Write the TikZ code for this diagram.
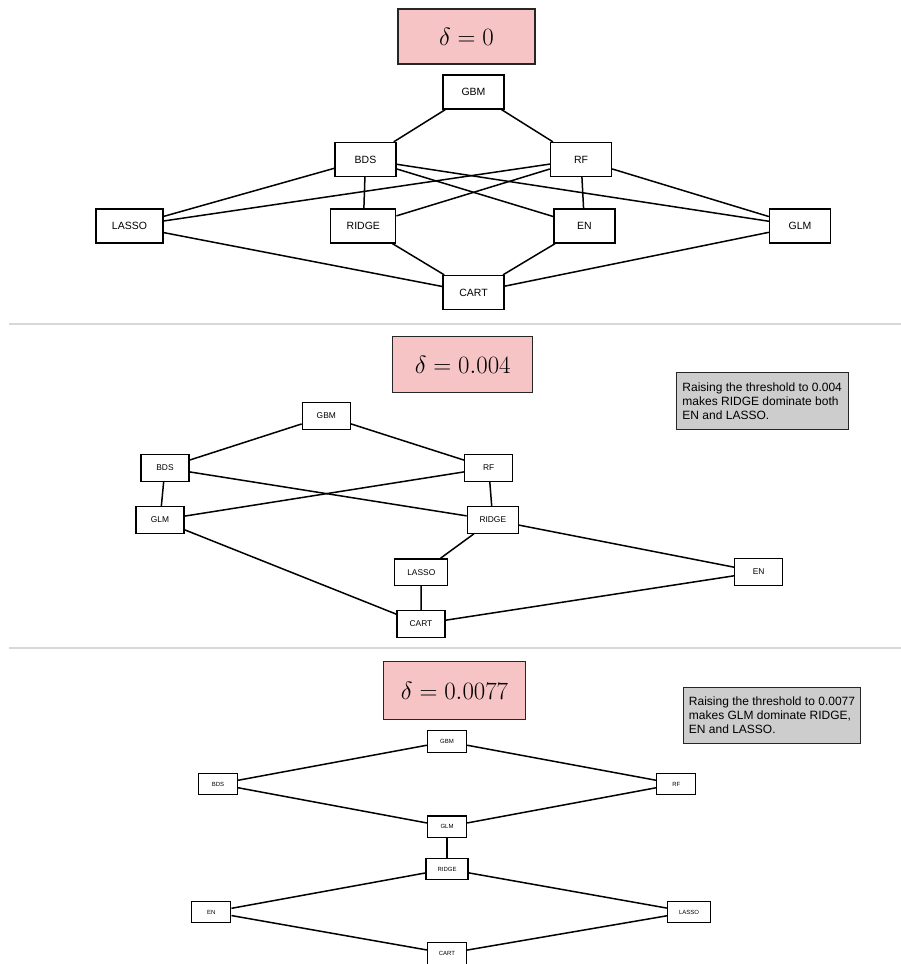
\documentclass[tikz,border=0pt]{standalone}
\usepackage[no-math]{fontspec}
\usepackage{xcolor}
\usepackage{tikz}
\usetikzlibrary{positioning}
\newfontfamily\arial{Liberation Sans}
\definecolor{deltapink}{RGB}{246, 196, 196}
\definecolor{notegray}{RGB}{205, 205, 205}
\definecolor{rulegray}{RGB}{215, 215, 215}
\tikzstyle{model} = [rectangle, draw=black, line width=1.3pt, fill=white, text centered, inner sep=0pt]
\tikzstyle{modelA} = [model, minimum width=61pt, minimum height=34pt, font=\arial\fontsize{10.5}{12}\selectfont]
\tikzstyle{modelB} = [model, minimum width=48pt, minimum height=26.5pt, font=\arial\fontsize{8.4}{10}\selectfont]
\tikzstyle{modelC} = [model, minimum width=39pt, minimum height=21.6pt, font=\arial\fontsize{6}{7}\selectfont]
\tikzstyle{delta} = [rectangle, draw=black!85, line width=1.3pt, fill=deltapink, inner sep=0pt, font=\fontsize{29}{34}\selectfont]
\tikzstyle{note} = [rectangle, draw=black!85, line width=1.3pt, fill=notegray, align=left, inner xsep=5.5pt, font=\arial\fontsize{12}{14.2}\selectfont]
\tikzstyle{link} = [line width=1.5pt]
\tikzstyle{panelrule} = [draw=rulegray, line width=2pt]

\begin{document}
\begin{tikzpicture}[x=1pt, y=-1pt]
    \useasboundingbox (0,0) rectangle (901,964);

    % delta = 0
    \node[delta, minimum width=137pt, minimum height=55pt] (thA) at (466.5, 36.5) {$\delta = 0$};
    \node[modelA] (gbmA) at (473.5, 92) {GBM};
    \node[modelA] (bdsA) at (365.5, 159.5) {BDS};
    \node[modelA] (rfA) at (581, 159.5) {RF};
    \node[modelA, minimum width=67pt] (lassoA) at (129.5, 226) {LASSO};
    \node[modelA, minimum width=65pt] (ridgeA) at (363.3, 226) {RIDGE};
    \node[modelA] (enA) at (584.5, 226) {EN};
    \node[modelA] (glmA) at (800, 226) {GLM};
    \node[modelA] (cartA) at (473.5, 292.5) {CART};

    \draw[link] (gbmA) -- (bdsA);
    \draw[link] (gbmA) -- (rfA);
    \draw[link] (bdsA) -- (lassoA);
    \draw[link] (bdsA) -- (ridgeA);
    \draw[link] (bdsA) -- (enA);
    \draw[link] (bdsA) -- (glmA);
    \draw[link] (rfA) -- (lassoA);
    \draw[link] (rfA) -- (ridgeA);
    \draw[link] (rfA) -- (enA);
    \draw[link] (rfA) -- (glmA);
    \draw[link] (lassoA) -- (cartA);
    \draw[link] (ridgeA) -- (cartA);
    \draw[link] (enA) -- (cartA);
    \draw[link] (glmA) -- (cartA);

    \draw[panelrule] (9, 324) -- (901, 324);

    % delta = 0.004
    \node[delta, minimum width=140pt, minimum height=56pt] (thB) at (462.7, 364.7) {$\delta = 0.004$};
    \node[note, minimum width=172pt, minimum height=56.6pt] (noteB) at (762.2, 401) {Raising the threshold to 0.004\\makes RIDGE dominate both\\EN and LASSO.};
    \node[modelB] (gbmB) at (326.3, 416) {GBM};
    \node[modelB] (bdsB) at (165, 468) {BDS};
    \node[modelB] (rfB) at (488.7, 468) {RF};
    \node[modelB] (glmB) at (160, 520) {GLM};
    \node[modelB, minimum width=51pt] (ridgeB) at (492.8, 520) {RIDGE};
    \node[modelB, minimum width=53pt] (lassoB) at (421.3, 572.3) {LASSO};
    \node[modelB] (enB) at (758.7, 572) {EN};
    \node[modelB] (cartB) at (421, 624) {CART};

    \draw[link] (gbmB) -- (bdsB);
    \draw[link] (gbmB) -- (rfB);
    \draw[link] (bdsB) -- (glmB);
    \draw[link] (bdsB) -- (ridgeB);
    \draw[link] (rfB) -- (glmB);
    \draw[link] (rfB) -- (ridgeB);
    \draw[link] (glmB) -- (cartB);
    \draw[link] (ridgeB) -- (lassoB);
    \draw[link] (ridgeB) -- (enB);
    \draw[link] (lassoB) -- (cartB);
    \draw[link] (enB) -- (cartB);

    \draw[panelrule] (9, 647.7) -- (901, 647.7);

    % delta = 0.0077
    \node[delta, minimum width=142pt, minimum height=58pt] (thC) at (454.5, 690.5) {$\delta = 0.0077$};
    \node[note, minimum width=176pt, minimum height=56pt] (noteC) at (772, 715.3) {Raising the threshold to 0.0077\\makes GLM dominate RIDGE,\\EN and LASSO.};
    \node[modelC] (gbmC) at (447, 741.5) {GBM};
    \node[modelC] (bdsC) at (218, 784) {BDS};
    \node[modelC] (rfC) at (676.3, 784) {RF};
    \node[modelC] (glmC) at (447, 826.7) {GLM};
    \node[modelC, minimum width=42pt] (ridgeC) at (447, 869) {RIDGE};
    \node[modelC] (enC) at (211.3, 912) {EN};
    \node[modelC, minimum width=43pt] (lassoC) at (689, 912) {LASSO};
    \node[modelC] (cartC) at (447, 953.5) {CART};

    \draw[link] (gbmC) -- (bdsC);
    \draw[link] (gbmC) -- (rfC);
    \draw[link] (bdsC) -- (glmC);
    \draw[link] (rfC) -- (glmC);
    \draw[link] (glmC) -- (ridgeC);
    \draw[link] (ridgeC) -- (enC);
    \draw[link] (ridgeC) -- (lassoC);
    \draw[link] (enC) -- (cartC);
    \draw[link] (lassoC) -- (cartC);

\end{tikzpicture}
\end{document}
